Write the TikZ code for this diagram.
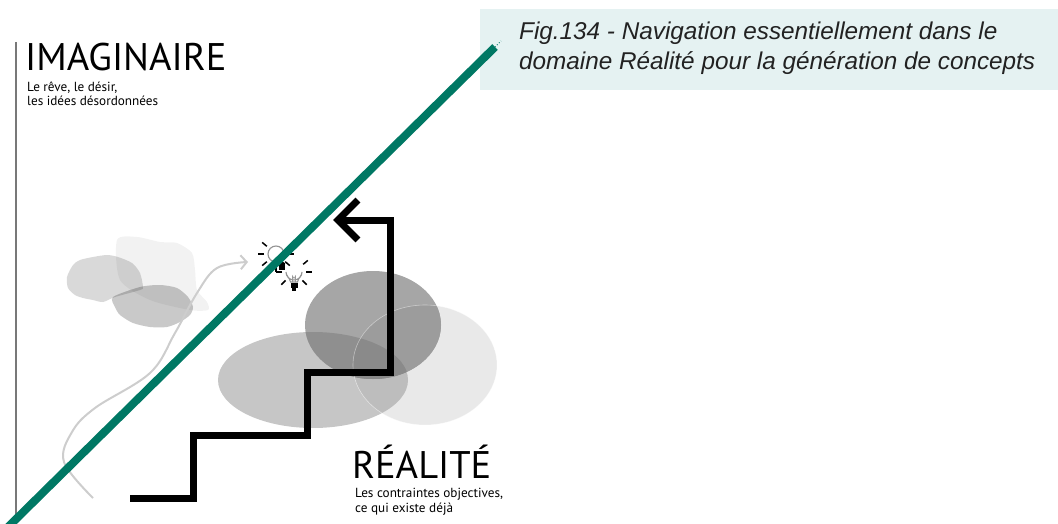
\documentclass[tikz,border=0pt]{standalone}
\usepackage{fontspec}
\setmainfont{PT Sans}
\newfontfamily\capfont{Liberation Sans}
\usetikzlibrary{arrows.meta,calc}

\definecolor{lineteal}{RGB}{0,120,100}
\definecolor{capbg}{RGB}{229,242,242}
\definecolor{capink}{RGB}{34,34,34}
\definecolor{axisgray}{RGB}{120,120,120}
\definecolor{pathgray}{RGB}{205,205,205}
% set colours and their overlaps
\definecolor{setL}{RGB}{198,198,198}
\definecolor{setR}{RGB}{233,233,233}
\definecolor{setT}{RGB}{166,166,166}
\definecolor{setLR}{RGB}{189,189,189}
\definecolor{setTL}{RGB}{143,143,143}
\definecolor{setTR}{RGB}{156,156,156}
\definecolor{setTLR}{RGB}{138,138,138}

\tikzset{
  bigword/.style={anchor=base west, inner sep=0, font=\fontsize{38.5}{38}\selectfont},
  smallword/.style={anchor=base west, inner sep=0, font=\fontsize{13.2}{15}\selectfont},
  capword/.style={anchor=base west, inner sep=0, text=capink,
    font=\capfont\itshape\fontsize{24.3}{28}\selectfont},
  cloud/.style={fill=black, draw=none},
  bulbray/.style={line width=1.5pt, black},
  bulbglass/.style={draw=gray!85, fill=white, line width=1.1pt},
  shapeL/.style={x radius=95, y radius=48},
  shapeR/.style={x radius=72, y radius=60},
  shapeT/.style={x radius=68, y radius=54},
}

\begin{document}
\begin{tikzpicture}[x=1pt,y=-1pt]
\useasboundingbox (0,0) rectangle (1058,524);
\clip (0,0) rectangle (1058,524);

% caption band
\fill[capbg] (480,9) rectangle (1058,90);
\node[capword] (cap1) at (519,40) {Fig.134 - Navigation essentiellement dans le};
\node[capword] (cap2) at (519,70) {domaine Réalité pour la génération de concepts};

% left axis
\coordinate (axtop) at (16,42);
\coordinate (axbot) at (16,524);
\draw[axisgray, line width=2pt] (axtop) -- (axbot);

% clouds of the imaginary side
\fill[cloud, fill opacity=0.05] plot[smooth cycle, tension=0.45] coordinates
  {(117,240) (137,237) (160,242) (177,243) (192,253) (195,270) (197,290)
   (207,302) (208,310) (190,310) (150,300) (120,280)};
\fill[cloud, fill opacity=0.15] plot[smooth cycle, tension=0.45] coordinates
  {(67,277) (73,265) (80,260) (93,257) (107,255) (118,257) (132,263)
   (140,273) (143,287) (140,290) (115,297) (103,302) (93,300) (83,298)
   (75,295) (68,288)};
\fill[cloud, fill opacity=0.21] plot[smooth cycle, tension=0.45] coordinates
  {(113,297) (140,287) (160,285) (177,288) (188,297) (193,307) (190,315)
   (180,322) (167,327) (150,327) (133,323) (120,315) (115,307)};

% wandering path
\draw[pathgray, line width=2pt, -{Straight Barb[length=6pt,width=14pt]}]
  plot[smooth, tension=0.6] coordinates
  {(93,498) (64,462) (72,432) (95,408) (150,373) (175,333) (197,293)
   (217,268) (248,262)};

% light bulbs
\begin{scope}[shift={(276,254)}]
  \fill[black] (3,9) rectangle (9,16);
  \draw[bulbglass] (0,0) circle (8);
  \foreach \a in {0,40,90,140,180,220} \draw[bulbray] (\a:12) -- (\a:18);
\end{scope}
\begin{scope}[shift={(294,275)}]
  \draw[bulbglass] (-3.5,7) .. controls (-4,3) and (-8,1) .. (-8,-3)
    arc[start angle=180, end angle=0, radius=8]
    .. controls (8,1) and (4,3) .. (3.5,7) -- cycle;
  \draw[gray!80, line width=0.6pt] (-1.5,7) -- (-1.5,1) -- (0,3.5) -- (1.5,1) -- (1.5,7);
  \fill[black] (-3.5,8) rectangle (3.5,13);
  \fill[black] (-1.8,13) rectangle (1.8,15.5);
  \foreach \a in {-40,0,45,90,135,180,220} \draw[bulbray] ($(0,-3)+(\a:12)$) -- ($(0,-3)+(\a:18)$);
\end{scope}

% reality sets
\fill[setL] (313,380) ellipse [shapeL];
\fill[setR] (425,365) ellipse [shapeR];
\fill[setT] (373,325) ellipse [shapeT];
\begin{scope}
  \clip (313,380) ellipse [shapeL];
  \fill[setLR] (425,365) ellipse [shapeR];
\end{scope}
\begin{scope}
  \clip (373,325) ellipse [shapeT];
  \fill[setTR] (425,365) ellipse [shapeR];
\end{scope}
\begin{scope}
  \clip (373,325) ellipse [shapeT];
  \fill[setTL] (313,380) ellipse [shapeL];
\end{scope}
\begin{scope}
  \clip (373,325) ellipse [shapeT];
  \clip (313,380) ellipse [shapeL];
  \fill[setTLR] (425,365) ellipse [shapeR];
\end{scope}
\draw[white, opacity=0.45, line width=0.6pt] (425,365) ellipse [shapeR];

% boundary between imaginary and reality
\coordinate (bstart) at (8,527);
\coordinate (bend) at (495,47);
\draw[lineteal, line width=8pt] (bstart) -- (bend);
\draw[lineteal, line width=0.8pt, dotted] (bend) -- ++(6,-6);

% staircase
\coordinate (s0) at (130,498);
\coordinate (s1) at (193,498);
\coordinate (s2) at (193,435);
\coordinate (s3) at (307,435);
\coordinate (s4) at (307,372);
\coordinate (s5) at (390,372);
\coordinate (s6) at (390,220);
\coordinate (s7) at (333,220);
\draw[black, line width=7pt, -{Straight Barb[length=20pt,width=40pt]}]
  (s0) -- (s1) -- (s2) -- (s3) -- (s4) -- (s5) -- (s6) -- (s7);

% labels
\node[bigword] (imag) at (25,71) {IMAGINAIRE};
\node[smallword] (imag1) at (27,92) {Le rêve, le désir,};
\node[smallword] (imag2) at (27,106) {les idées désordonnées};

\node[bigword] (real) at (352,478) {RÉALITÉ};
\node[smallword] (real1) at (355,497) {Les contraintes objectives,};
\node[smallword] (real2) at (355,512) {ce qui existe déjà};
\end{tikzpicture}
\end{document}
